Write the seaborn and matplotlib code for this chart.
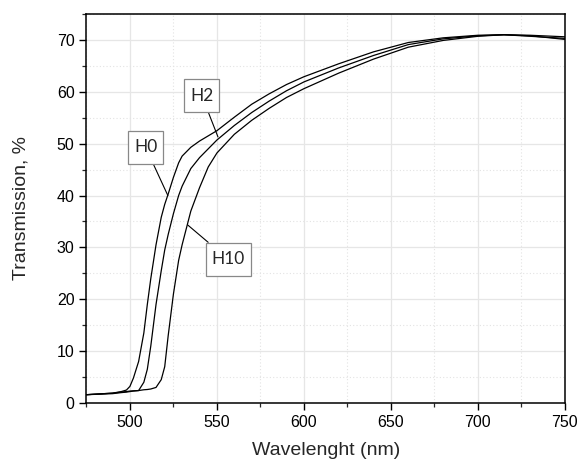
import numpy as np
import pandas as pd
import seaborn as sns
import matplotlib
matplotlib.use("Agg")
import matplotlib.pyplot as plt
from matplotlib.ticker import MultipleLocator

wavelength = [475, 490, 495, 498, 500, 502, 505, 508, 510, 512, 515, 518, 520, 522, 525, 528, 530, 535, 540, 545,
              550, 560, 570, 580, 590, 600, 620, 640, 660, 680, 700, 715, 730, 750]
h0 = [1.6, 1.9, 2.2, 2.5, 3.2, 4.8, 8.0, 13.5, 19.0, 24.0, 30.5, 35.8, 38.3, 40.3, 43.5, 46.3, 47.6, 49.3, 50.5, 51.5,
      52.5, 55.1, 57.6, 59.6, 61.4, 62.9, 65.4, 67.7, 69.5, 70.4, 70.9, 71.0, 70.8, 70.1]
h2 = [1.6, 1.9, 2.1, 2.2, 2.3, 2.35, 2.4, 4.0, 6.5, 11.0, 19.0, 25.5, 29.5, 32.5, 36.5, 40.0, 41.8, 45.2, 47.3, 49.0,
      50.7, 53.5, 56.0, 58.2, 60.2, 61.9, 64.6, 67.0, 69.1, 70.2, 70.8, 71.0, 70.7, 70.3]
h10 = [1.6, 1.8, 2.0, 2.1, 2.2, 2.3, 2.4, 2.55, 2.6, 2.7, 3.0, 4.5, 7.0, 13.0, 21.0, 27.5, 30.5, 37.0, 41.5, 45.5,
       48.2, 51.8, 54.5, 56.8, 58.9, 60.6, 63.6, 66.3, 68.6, 69.9, 70.7, 71.0, 70.9, 70.6]
series_names = ["H0", "H2", "H10"]
label_text = [(509.0, 49.3), (541.4, 59.2), (556.5, 27.7)]
label_point = [(521.8, 40.0), (550.6, 51.3), (533.3, 34.3)]

df = pd.concat([
    pd.DataFrame({"Wavelength": wavelength, "T": vals, "Sample": name})
    for name, vals in zip(series_names, [h0, h2, h10])
])

sns.set_style("ticks")
plt.rcParams["font.family"] = ["Liberation Sans", "DejaVu Sans"]

fig = plt.figure(figsize=(5.8, 4.63), dpi=100)
ax = fig.add_axes([0.149, 0.1296, 0.825, 0.8402])

sns.lineplot(data=df, x="Wavelength", y="T", hue="Sample", palette=["black"] * 3,
             linewidth=0.9, legend=False, ax=ax, sort=False)

ax.set_xlim(475, 750)
ax.set_ylim(0, 75)
ax.xaxis.set_major_locator(MultipleLocator(50))
ax.xaxis.set_minor_locator(MultipleLocator(25))
ax.yaxis.set_major_locator(MultipleLocator(10))
ax.yaxis.set_minor_locator(MultipleLocator(5))
ax.grid(which="major", color="#e6e6e6", linewidth=0.9, linestyle="-")
ax.grid(which="minor", color="#e3e3e3", linewidth=0.8, linestyle=(0, (1, 2)))
ax.set_axisbelow(True)
for s in ax.spines.values():
    s.set_linewidth(1.1)
    s.set_color("black")
ax.tick_params(which="major", direction="out", length=5, width=1.0, labelsize=11.5, colors="black")
ax.tick_params(which="minor", direction="out", length=3, width=0.9)
ax.set_xlabel("Wavelenght (nm)", fontsize=14)
ax.set_ylabel("Transmission, %", fontsize=14)
ax.yaxis.set_label_coords(-0.118, 0.5)
ax.xaxis.set_label_coords(0.5, -0.101)

for name, (tx, ty), (px, py) in zip(series_names, label_text, label_point):
    ax.annotate(name, xy=(px, py), xytext=(tx, ty), textcoords="data",
                ha="center", va="center", fontsize=12.5, family=["Lato", "DejaVu Sans"],
                bbox=dict(boxstyle="square,pad=0.34", fc="white", ec="#888888", lw=0.9,
                          mutation_aspect=1.45),
                arrowprops=dict(arrowstyle="-", color="black", lw=0.8, shrinkA=0, shrinkB=0))

fig.savefig("out.png", dpi=100)
